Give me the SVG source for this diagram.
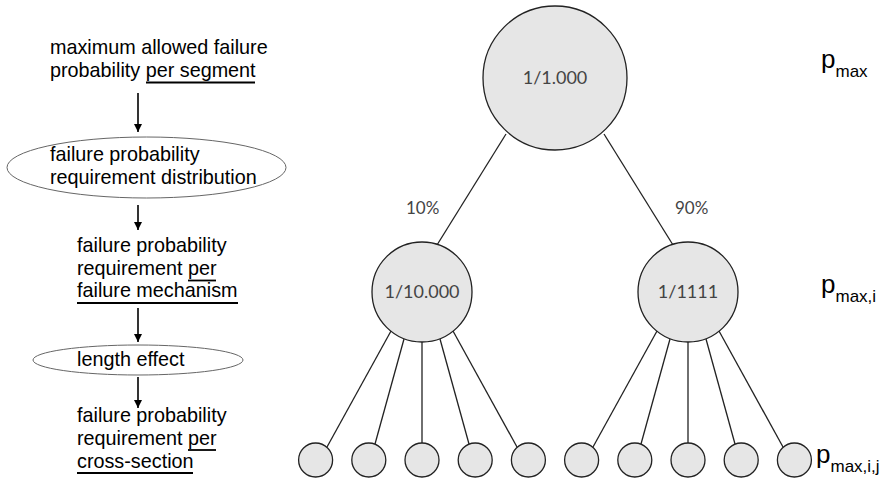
<svg xmlns="http://www.w3.org/2000/svg" width="884" height="479" viewBox="0 0 884 479">
<defs>
<marker id="ah" markerUnits="userSpaceOnUse" markerWidth="9" markerHeight="9" refX="8" refY="4" orient="auto">
<path d="M0,0 L8,4 L0,8 z" fill="#000"/>
</marker>
<style>
.t{font-family:"Liberation Sans",Arial,sans-serif;font-size:19.8px;fill:#000}
.ul{stroke:#000;stroke-width:1.8}
.ar{stroke:#000;stroke-width:1.6;fill:none;marker-end:url(#ah)}
.el{fill:none;stroke:#666;stroke-width:1}
.c{fill:#e6e6e6;stroke:#222;stroke-width:1.3}
.ct{font-family:Lato,"Open Sans",sans-serif;font-size:18px;fill:#444;text-anchor:middle}
.pc{font-family:Lato,"Open Sans",sans-serif;font-size:17px;fill:#444}
.ed{stroke:#222;stroke-width:1.3;fill:none}
.p{font-family:"Liberation Sans",Arial,sans-serif;fill:#000}
</style>
</defs>
<rect width="884" height="479" fill="#fff"/>

<g id="step1">
<text class="t" x="50" y="54">maximum allowed failure</text>
<text class="t" x="50" y="77">probability per segment</text>
<line class="ul" x1="146" y1="82.5" x2="255" y2="82.5"/>
</g>
<g id="step2">
<ellipse class="el" cx="146.5" cy="167.5" rx="139.5" ry="30.5"/>
<text class="t" x="50" y="161">failure probability</text>
<text class="t" x="50" y="184">requirement distribution</text>
</g>
<g id="step3">
<text class="t" x="77" y="252">failure probability</text>
<text class="t" x="77" y="275">requirement per</text>
<text class="t" x="77" y="297">failure mechanism</text>
<line class="ul" x1="188" y1="280.5" x2="216" y2="280.5"/>
<line class="ul" x1="77" y1="303" x2="238" y2="303"/>
</g>
<g id="step4">
<ellipse class="el" cx="138" cy="360" rx="105" ry="15"/>
<text class="t" x="77" y="366">length effect</text>
</g>
<g id="step5">
<text class="t" x="77" y="422">failure probability</text>
<text class="t" x="77" y="445">requirement per</text>
<text class="t" x="77" y="468">cross-section</text>
<line class="ul" x1="188" y1="450" x2="216" y2="450"/>
<line class="ul" x1="77" y1="473" x2="193" y2="473"/>
</g>

<g id="flow-arrows">
<line class="ar" x1="138" y1="93" x2="138" y2="132"/>
<line class="ar" x1="138" y1="205" x2="138" y2="230"/>
<line class="ar" x1="138" y1="308" x2="138" y2="342"/>
<line class="ar" x1="138" y1="377" x2="138" y2="408"/>
</g>

<g id="connectors">
<line class="ed" x1="506" y1="134" x2="437" y2="245"/>
<line class="ed" x1="604" y1="134" x2="673" y2="245"/>
<line class="ed" x1="391" y1="331" x2="327" y2="447"/>
<line class="ed" x1="404" y1="339" x2="375" y2="444"/>
<line class="ed" x1="422" y1="342" x2="422" y2="443"/>
<line class="ed" x1="440" y1="339" x2="469" y2="444"/>
<line class="ed" x1="453" y1="331" x2="517" y2="447"/>
<line class="ed" x1="657" y1="331" x2="593" y2="447"/>
<line class="ed" x1="670" y1="339" x2="641" y2="444"/>
<line class="ed" x1="688" y1="342" x2="688" y2="443"/>
<line class="ed" x1="706" y1="339" x2="735" y2="444"/>
<line class="ed" x1="719" y1="331" x2="783" y2="447"/>
<text class="pc" x="406" y="214">10%</text>
<text class="pc" x="675" y="214">90%</text>
</g>

<g id="root">
<circle class="c" cx="555" cy="78" r="72"/>
<text class="ct" x="555" y="84">1/1.000</text>
</g>
<g id="mid-left">
<circle class="c" cx="422" cy="292" r="50"/>
<text class="ct" x="422" y="298">1/10.000</text>
</g>
<g id="mid-right">
<circle class="c" cx="688" cy="292" r="50"/>
<text class="ct" x="688" y="298">1/1111</text>
</g>
<g id="leaves">
<circle class="c" cx="315.6" cy="460" r="17"/>
<circle class="c" cx="368.8" cy="460" r="17"/>
<circle class="c" cx="422" cy="460" r="17"/>
<circle class="c" cx="475.2" cy="460" r="17"/>
<circle class="c" cx="528.4" cy="460" r="17"/>
<circle class="c" cx="581.6" cy="460" r="17"/>
<circle class="c" cx="634.8" cy="460" r="17"/>
<circle class="c" cx="688" cy="460" r="17"/>
<circle class="c" cx="741.2" cy="460" r="17"/>
<circle class="c" cx="794.4" cy="460" r="17"/>
</g>

<g id="labels">
<text class="p" x="821" y="68" font-size="26">p<tspan font-size="17" dy="9">max</tspan></text>
<text class="p" x="821" y="293" font-size="26">p<tspan font-size="17" dy="9">max,i</tspan></text>
<text class="p" x="816" y="463" font-size="26">p<tspan font-size="17" dy="9">max,i,j</tspan></text>
</g>
</svg>
